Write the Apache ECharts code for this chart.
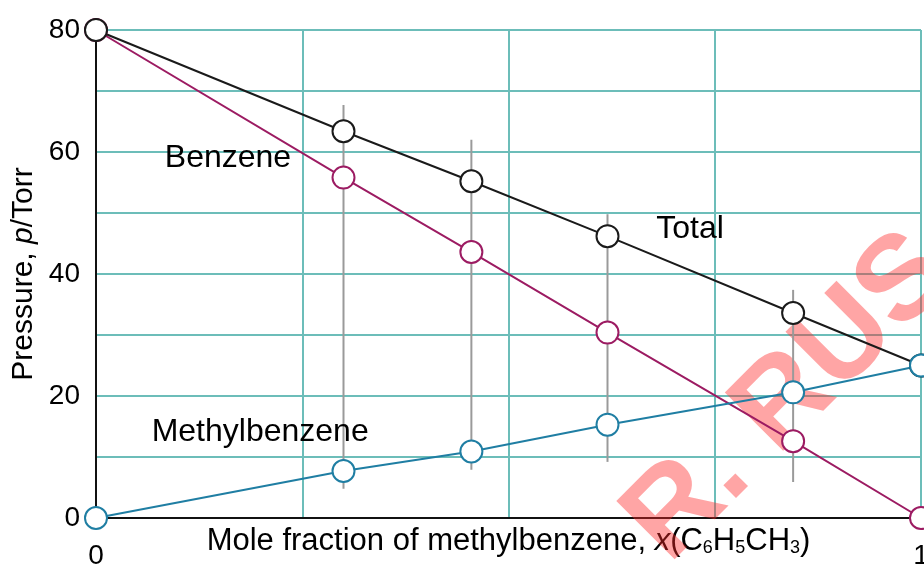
<!DOCTYPE html>
<html>
<head>
<meta charset="utf-8">
<title>Vapour pressure of benzene / methylbenzene</title>
<script src="https://cdn.jsdelivr.net/npm/echarts@6/dist/echarts.min.js"></script>
<style>
  html, body { margin: 0; padding: 0; background: #fff; }
  #chart { width: 924px; height: 566px; }
</style>
</head>
<body>
<div id="chart"></div>
<script>
// mole fraction of methylbenzene for each measured point
var moleFraction = [0, 0.3, 0.455, 0.62, 0.845, 1];
var totalP = [80, 63.4, 55.2, 46.2, 33.6, 25];
var benzeneP = [80, 55.8, 43.6, 30.4, 12.6, 0];
var methylP = [0, 7.7, 10.9, 15.3, 20.6, 25];

// grey vertical bars (x, low, high)
var barX = [0.3, 0.455, 0.62, 0.845];
var barLow = [4.8, 7.9, 9.2, 5.9];
var barHigh = [67.7, 62, 49.8, 37.4];

// curve labels
var labelText = ['Benzene', 'Total', 'Methylbenzene'];
var labelX = [0.16, 0.72, 0.199];
var labelY = [59, 47.3, 14.1];

var font = 'Liberation Sans, Arial, sans-serif';

function pts(ys) {
  return moleFraction.map(function (x, i) { return [x, ys[i]]; });
}

function lineSeries(name, ys, color) {
  return {
    name: name,
    type: 'line',
    data: pts(ys),
    symbol: 'circle',
    symbolSize: 22,
    clip: false,
    lineStyle: { color: color, width: 2 },
    itemStyle: { color: '#fff', borderColor: color, borderWidth: 2 },
    z: 5
  };
}

var chart = echarts.init(document.getElementById('chart'));
chart.setOption({
  animation: false,
  textStyle: { fontFamily: font },
  grid: { left: 96, right: 3, top: 30, bottom: 48, containLabel: false, outerBoundsMode: 'none' },
  xAxis: {
    type: 'value',
    min: 0, max: 1, interval: 0.25,
    name: '{t|Mole fraction of methylbenzene, }{i|x}{t|(C}{s|6}{t|H}{s|5}{t|CH}{s|3}{t|)}',
    nameLocation: 'middle',
    nameGap: 7,
    nameMoveOverlap: false,
    nameTextStyle: {
      rich: {
        t: { fontSize: 31, color: '#000', fontFamily: font },
        i: { fontSize: 31, color: '#000', fontFamily: font, fontStyle: 'italic' },
        s: { fontSize: 18, color: '#000', fontFamily: font, verticalAlign: 'bottom', padding: [14, 0, 0, 0] }
      }
    },
    axisLine: { lineStyle: { color: '#111', width: 2 } },
    axisTick: { show: false },
    axisLabel: {
      fontSize: 28, color: '#000', margin: 24,
      formatter: function (v) { return (v === 0 || v === 1) ? String(v) : ''; }
    },
    splitLine: { show: true, lineStyle: { color: '#6cbdb9', width: 2 } }
  },
  yAxis: {
    type: 'value',
    min: 0, max: 80, interval: 10,
    name: '{t|Pressure, }{i|p}{t|/Torr}',
    nameLocation: 'middle',
    nameGap: 57,
    nameMoveOverlap: false,
    nameTextStyle: {
      rich: {
        t: { fontSize: 30, color: '#000', fontFamily: font },
        i: { fontSize: 30, color: '#000', fontFamily: font, fontStyle: 'italic' }
      }
    },
    axisLine: { show: true, lineStyle: { color: '#111', width: 2 } },
    axisTick: { show: false },
    axisLabel: {
      fontSize: 28, color: '#000', margin: 16,
      formatter: function (v) { return v % 20 === 0 ? String(v) : ''; }
    },
    splitLine: { show: true, lineStyle: { color: '#6cbdb9', width: 2 } }
  },
  graphic: [{
    type: 'text',
    x: 688, y: 584,
    rotation: Math.PI / 4,
    z: 1,
    style: {
      text: 'R. RUS',
      font: 'bold 120px Liberation Sans, Arial, sans-serif',
      fill: 'rgba(255, 40, 40, 0.42)',
      textAlign: 'left',
      textVerticalAlign: 'bottom'
    }
  }],
  series: [
    {
      type: 'custom',
      data: barX.map(function (x, i) { return [x, barLow[i], barHigh[i]]; }),
      encode: { x: 0, y: [1, 2] },
      z: 3,
      renderItem: function (params, api) {
        var a = api.coord([api.value(0), api.value(1)]);
        var b = api.coord([api.value(0), api.value(2)]);
        return {
          type: 'line',
          shape: { x1: a[0], y1: a[1], x2: b[0], y2: b[1] },
          style: { stroke: '#9a9a9a', lineWidth: 2 }
        };
      }
    },
    lineSeries('Benzene', benzeneP, '#9c1b62'),
    lineSeries('Total', totalP, '#1a1a1a'),
    lineSeries('Methylbenzene', methylP, '#1f7ea3'),
    {
      type: 'scatter',
      data: labelText.map(function (t, i) { return [labelX[i], labelY[i], t]; }),
      symbolSize: 1,
      itemStyle: { color: 'rgba(0,0,0,0)' },
      z: 8,
      label: {
        show: true,
        position: 'inside',
        formatter: function (p) { return p.value[2]; },
        fontSize: 32,
        color: '#000',
        textBorderWidth: 0,
        opacity: 1
      }
    }
  ]
});
</script>
</body>
</html>
